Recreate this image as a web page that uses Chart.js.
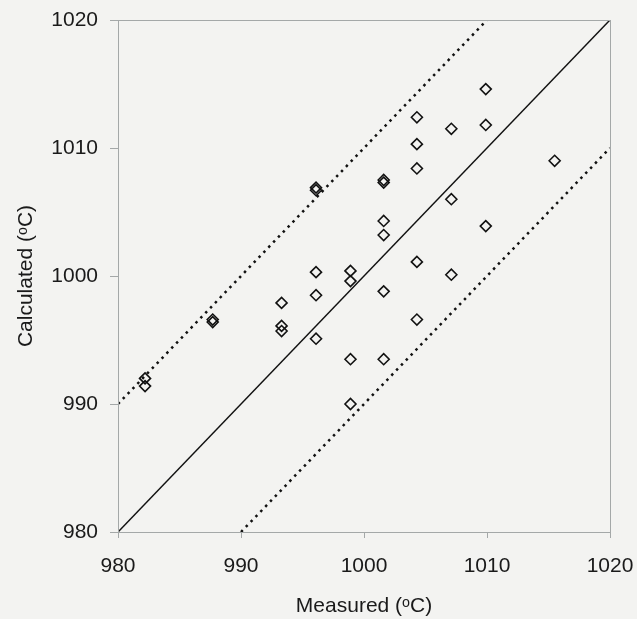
<!DOCTYPE html>
<html>
<head>
<meta charset="utf-8">
<script src="https://cdn.jsdelivr.net/npm/chart.js@4"></script>
<style>
  html, body { margin: 0; padding: 0; background: #f3f3f1; }
  #wrap { width: 637px; height: 619px; }
</style>
</head>
<body>
<div id="wrap"><canvas id="chart" width="637" height="619"></canvas></div>
<script>
// measured vs calculated temperatures (deg C)
const measured = [982.2, 982.2, 987.7, 987.7, 993.3, 993.3, 993.3,
  996.1, 996.1, 996.1, 996.1, 996.1, 998.9, 998.9, 998.9, 998.9,
  1001.6, 1001.6, 1001.6, 1001.6, 1001.6, 1001.6,
  1004.3, 1004.3, 1004.3, 1004.3, 1004.3,
  1007.1, 1007.1, 1007.1, 1009.9, 1009.9, 1009.9, 1015.5];
const calculated = [992.0, 991.4, 996.6, 996.4, 997.9, 996.1, 995.7,
  1006.9, 1006.7, 1000.3, 998.5, 995.1, 1000.4, 999.6, 993.5, 990.0,
  1007.5, 1007.3, 1004.3, 1003.2, 998.8, 993.5,
  1012.4, 1010.3, 1008.4, 1001.1, 996.6,
  1011.5, 1006.0, 1000.1, 1014.6, 1011.8, 1003.9, 1009.0];

// y = x line and +/-10 bands
const parityX = [980, 1020];
const parityY = [980, 1020];
const upperX = [980, 1010];
const upperY = [990, 1020];
const lowerX = [990, 1020];
const lowerY = [980, 1010];

const xTicks = [980, 990, 1000, 1010, 1020];
const yTicks = [980, 990, 1000, 1010, 1020];

const toPts = (xs, ys) => xs.map((x, i) => ({ x: x, y: ys[i] }));

Chart.defaults.font.family = "'Liberation Sans', Arial, sans-serif";
Chart.defaults.color = '#1a1a1a';

const frame = {
  id: 'frame',
  afterDatasetsDraw(chart) {
    const a = chart.chartArea, c = chart.ctx;
    c.save();
    c.strokeStyle = '#a4a8a8';
    c.lineWidth = 1;
    c.strokeRect(a.left + 0.5, a.top + 0.5, a.right - a.left, a.bottom - a.top);
    c.restore();
  }
};

const ctx = document.getElementById('chart').getContext('2d');
new Chart(ctx, {
  type: 'scatter',
  data: {
    datasets: [{
      type: 'line',
      data: toPts(parityX, parityY),
      borderColor: '#111',
      borderWidth: 1.5,
      pointRadius: 0,
      fill: false,
      order: 2
    }, {
      type: 'line',
      data: toPts(upperX, upperY),
      borderColor: '#111',
      borderWidth: 2.5,
      borderDash: [2.5, 4.5],
      pointRadius: 0,
      fill: false,
      order: 2
    }, {
      type: 'line',
      data: toPts(lowerX, lowerY),
      borderColor: '#111',
      borderWidth: 2.5,
      borderDash: [2.5, 4.5],
      pointRadius: 0,
      fill: false,
      order: 2
    }, {
      data: toPts(measured, calculated),
      pointStyle: 'rectRot',
      pointRadius: 5.5,
      pointBorderWidth: 1.6,
      borderColor: '#111',
      backgroundColor: 'rgba(0,0,0,0)',
      order: 1
    }]
  },
  options: {
    responsive: false,
    animation: false,
    layout: { padding: { left: 10, top: 20, right: 27, bottom: 0 } },
    plugins: { legend: { display: false }, tooltip: { enabled: false } },
    scales: {
      x: {
        type: 'linear',
        min: 980, max: 1020,
        afterBuildTicks: s => { s.ticks = xTicks.map(v => ({ value: v })); },
        afterFit: s => { s.height = 87; s.paddingLeft = 0; s.paddingRight = 0; },
        grid: { drawOnChartArea: false, drawTicks: true, tickLength: 6, color: '#a4a8a8' },
        border: { color: '#a4a8a8' },
        ticks: { font: { size: 21 }, padding: 16, maxRotation: 0, callback: v => String(v) },
        title: { display: true, text: 'Measured (ᵒC)', font: { size: 21 }, padding: { top: 14, bottom: 0 } }
      },
      y: {
        type: 'linear',
        min: 980, max: 1020,
        afterBuildTicks: s => { s.ticks = yTicks.map(v => ({ value: v })); },
        afterFit: s => { s.width = 108; s.paddingTop = 0; s.paddingBottom = 0; },
        grid: { drawOnChartArea: false, drawTicks: true, tickLength: 8, color: '#a4a8a8' },
        border: { color: '#a4a8a8' },
        ticks: { font: { size: 21 }, padding: 12, callback: v => String(v) },
        title: { display: true, text: 'Calculated (ᵒC)', font: { size: 21 }, padding: { bottom: 8 } }
      }
    }
  },
  plugins: [frame]
});
</script>
</body>
</html>
